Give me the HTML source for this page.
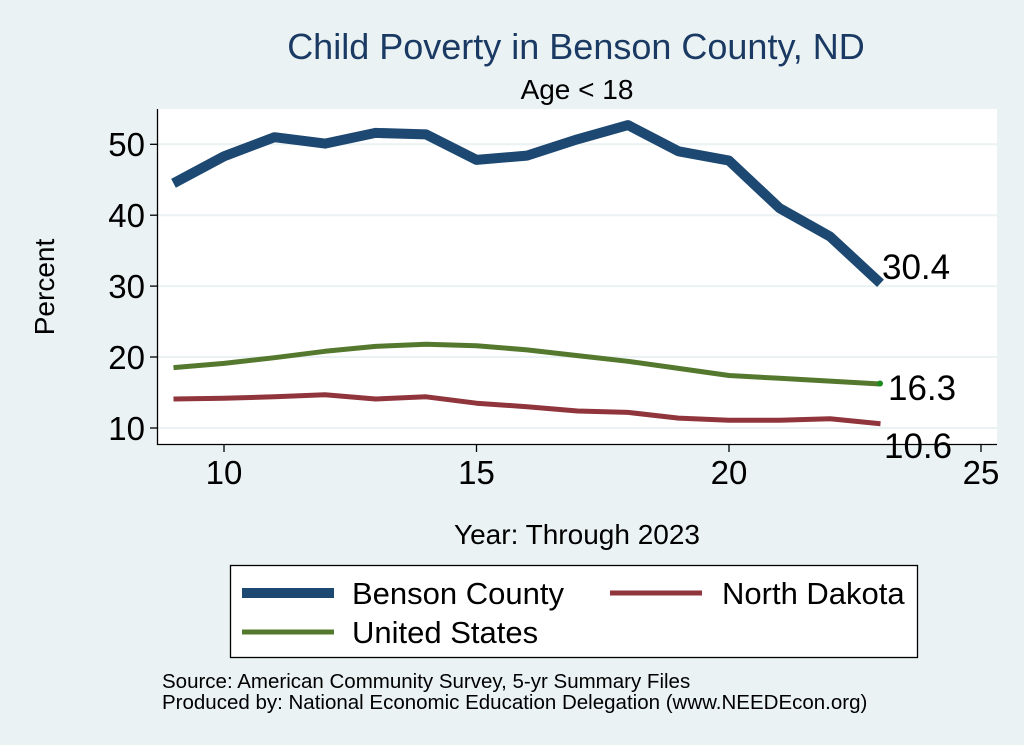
<!DOCTYPE html>
<html><head><meta charset="utf-8"><style>
body{margin:0;background:#eaf2f3;}
svg{display:block;font-family:"Liberation Sans",Arial,sans-serif;}
</style></head><body>
<svg width="1024" height="745" viewBox="0 0 1024 745">
<rect width="1024" height="745" fill="#eaf2f3"/>
<text x="576" y="59" font-size="36" fill="#1a3a63" text-anchor="middle">Child Poverty in Benson County, ND</text>
<text x="577" y="99" font-size="28" fill="#000" text-anchor="middle">Age &lt; 18</text>
<rect x="158" y="109" width="839" height="335" fill="#fff"/>
<g stroke="#eaf2f3" stroke-width="2">
<line x1="158" x2="997" y1="144.3" y2="144.3"/>
<line x1="158" x2="997" y1="215.2" y2="215.2"/>
<line x1="158" x2="997" y1="286.1" y2="286.1"/>
<line x1="158" x2="997" y1="357" y2="357"/>
<line x1="158" x2="997" y1="428" y2="428"/>
</g>
<g stroke="#000" stroke-width="1.3">
<line x1="157.5" x2="157.5" y1="109" y2="445"/>
<line x1="157" x2="997" y1="444.5" y2="444.5"/>
<line x1="150" x2="157" y1="144.3" y2="144.3"/>
<line x1="150" x2="157" y1="215.2" y2="215.2"/>
<line x1="150" x2="157" y1="286.1" y2="286.1"/>
<line x1="150" x2="157" y1="357" y2="357"/>
<line x1="150" x2="157" y1="428" y2="428"/>
<line x1="224" x2="224" y1="444" y2="452"/>
<line x1="476.5" x2="476.5" y1="444" y2="452"/>
<line x1="729" x2="729" y1="444" y2="452"/>
<line x1="981" x2="981" y1="444" y2="452"/>
</g>
<g font-size="33" fill="#000" text-anchor="end">
<text x="145" y="156">50</text><text x="145" y="227">40</text><text x="145" y="298">30</text><text x="145" y="369">20</text><text x="145" y="440">10</text>
</g>
<g font-size="33" fill="#000" text-anchor="middle">
<text x="224" y="484">10</text><text x="476.5" y="484">15</text><text x="729" y="484">20</text><text x="981" y="484">25</text>
</g>
<text x="54" y="287" font-size="28" text-anchor="middle" transform="rotate(-90 54 287)">Percent</text>
<text x="577" y="544" font-size="28" text-anchor="middle">Year: Through 2023</text>
<polyline fill="none" stroke="#1c4872" stroke-width="10" stroke-linejoin="round" points="173.5,183.3 224,156.3 274.5,137.2 325,143.6 375.5,132.9 426,134.4 476.5,159.9 527,155.6 577.5,139.3 628,125.1 678.5,151.3 729,160.6 779.5,208.1 830,236.5 880.5,283.3"/>
<polyline fill="none" stroke="#55782f" stroke-width="5" stroke-linejoin="round" points="173.5,367.6 224,363.4 274.5,357.7 325,351.3 375.5,346.4 426,344.2 476.5,345.7 527,349.9 577.5,355.6 628,361.3 678.5,368.4 729,375.5 779.5,378.3 830,381.1 880.5,384"/>
<polyline fill="none" stroke="#90353b" stroke-width="5" stroke-linejoin="round" points="173.5,399 224,398.2 274.5,396.8 325,394.7 375.5,399 426,396.8 476.5,403.2 527,406.7 577.5,411 628,412.4 678.5,418.1 729,420.2 779.5,420.2 830,418.8 880.5,423.7"/>
<circle cx="880" cy="383.5" r="3" fill="#1a8a1a"/>
<g font-size="35" fill="#000">
<text x="882" y="279">30.4</text><text x="888" y="400">16.3</text><text x="884" y="458">10.6</text>
</g>
<rect x="230.5" y="565.5" width="687" height="92" fill="#fff" stroke="#000" stroke-width="1.3"/>
<line x1="242" x2="334" y1="593" y2="593" stroke="#1c4872" stroke-width="10"/>
<text x="352" y="604" font-size="31">Benson County</text>
<line x1="610" x2="702" y1="593" y2="593" stroke="#90353b" stroke-width="5"/>
<text x="722" y="604" font-size="31">North Dakota</text>
<line x1="242" x2="334" y1="632" y2="632" stroke="#55782f" stroke-width="5"/>
<text x="352" y="643" font-size="31">United States</text>
<text x="162" y="688" font-size="20.5">Source: American Community Survey, 5-yr Summary Files</text>
<text x="162" y="709" font-size="20.5">Produced by: National Economic Education Delegation (www.NEEDEcon.org)</text>
</svg>
</body></html>
